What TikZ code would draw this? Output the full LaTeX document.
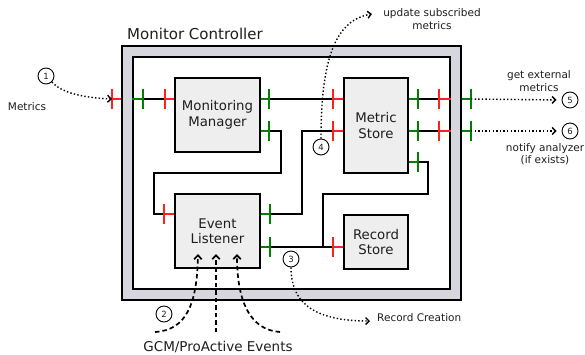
\documentclass[tikz,border=0pt]{standalone}
\usepackage{fontspec}
\setmainfont{DejaVu Sans}
\usetikzlibrary{arrows.meta}
\definecolor{framegray}{HTML}{D6D6DE}
\definecolor{boxgray}{HTML}{EEEEEE}
\definecolor{reqred}{HTML}{FF2020}
\definecolor{provgreen}{HTML}{008000}
\definecolor{txt}{HTML}{1E1E1E}

% stub from a box edge to a port tick, plus the tick itself
\newcommand{\portstub}[3]{%
  \draw[portline,#1] (#2) -- (#3);
  \draw[portline,#1] ([yshift=-10pt]#3) -- ([yshift=10pt]#3);}

\begin{document}
\begin{tikzpicture}[x=1pt,y=-1pt,
  every node/.style={text=txt},
  outerbox/.style={draw=black,line width=1.8pt,fill=framegray,inner sep=0pt},
  innerbox/.style={draw=black,line width=1.8pt,fill=white,inner sep=0pt},
  comp/.style={draw=black,line width=1.8pt,fill=boxgray,inner sep=0pt,align=center,
    font=\fontsize{13.3}{15.5}\selectfont},
  portline/.style={line width=1.6pt},
  wire/.style={draw=black,line width=1.6pt},
  num/.style={circle,draw=black,line width=0.9pt,minimum size=16pt,inner sep=0pt,
    font=\fontsize{8.5}{9}\selectfont},
  note/.style={align=center,font=\fontsize{10.5}{12.5}\selectfont},
  dotarrow/.style={line width=1.4pt,dash pattern=on 1.4pt off 2.2pt,
    -{Straight Barb[length=3.5pt,width=7pt]}},
  dasharrow/.style={line width=1.7pt,dash pattern=on 4.5pt off 3pt,
    -{Straight Barb[length=4pt,width=7.5pt]}},
]
\useasboundingbox (0,0) rectangle (585,354);

% controller frame
\node[outerbox,minimum width=339pt,minimum height=254pt] (mc) at (291.5,173) {};
\node[innerbox,minimum width=317pt,minimum height=232pt] (ib) at (291.5,173) {};
\node[anchor=base west,inner sep=0pt,font=\fontsize{15}{18}\selectfont] (title) at (127,39) {Monitor Controller};

% components
\node[comp,minimum width=85pt,minimum height=74pt] (mm) at (217.5,115) {Monitoring\\Manager};
\node[comp,minimum width=64pt,minimum height=95pt] (ms) at (376,125.5) {Metric\\Store};
\node[comp,minimum width=85pt,minimum height=74pt] (el) at (217.5,231) {Event\\Listener};
\node[comp,minimum width=64pt,minimum height=54pt] (rs) at (376,242) {Record\\Store};

% port ticks
\coordinate (pIn0) at (112,99);
\coordinate (pOut5) at (471,99);
\coordinate (pOut6) at (471,131);
\coordinate (pIn1) at (143,99);
\coordinate (pOutA) at (439,99);
\coordinate (pOutB) at (439,131);
\coordinate (pMMin) at (165,99);
\coordinate (pMMo1) at (269,99);
\coordinate (pMMo2) at (269,131);
\coordinate (pELin) at (164,214);
\coordinate (pELo1) at (270,214);
\coordinate (pELo2) at (270,247);
\coordinate (pMSi1) at (333,99);
\coordinate (pMSi2) at (333,131);
\coordinate (pMSo1) at (418,99);
\coordinate (pMSo2) at (418,131);
\coordinate (pMSo3) at (418,162);
\coordinate (pRSin) at (333,247);
\coordinate (jn) at (323,247);

% wires
\draw[wire] (pIn1) -- (pMMin);
\draw[wire] (pMMo1) -- (pMSi1);
\draw[wire] (pMMo2) -| (281,173) -| (154,214) -- (pELin);
\draw[wire] (pELo1) -- ++(32,0) |- (pMSi2);
\draw[wire] (pELo2) -- (pRSin);
\draw[wire] (pMSo3) -| (428,194) -| (jn);
\draw[wire] (pMSo1) -- (pOutA);
\draw[wire] (pMSo2) -- (pOutB);

% ports
\portstub{reqred}{mc.west |- pIn0}{pIn0}
\portstub{provgreen}{mc.east |- pOut5}{pOut5}
\portstub{provgreen}{mc.east |- pOut6}{pOut6}
\portstub{provgreen}{ib.west |- pIn1}{pIn1}
\portstub{reqred}{ib.east |- pOutA}{pOutA}
\portstub{reqred}{ib.east |- pOutB}{pOutB}
\portstub{reqred}{mm.west |- pMMin}{pMMin}
\portstub{provgreen}{mm.east |- pMMo1}{pMMo1}
\portstub{provgreen}{mm.east |- pMMo2}{pMMo2}
\portstub{reqred}{el.west |- pELin}{pELin}
\portstub{provgreen}{el.east |- pELo1}{pELo1}
\portstub{provgreen}{el.east |- pELo2}{pELo2}
\portstub{reqred}{ms.west |- pMSi1}{pMSi1}
\portstub{reqred}{ms.west |- pMSi2}{pMSi2}
\portstub{provgreen}{ms.east |- pMSo1}{pMSo1}
\portstub{provgreen}{ms.east |- pMSo2}{pMSo2}
\portstub{provgreen}{ms.east |- pMSo3}{pMSo3}
\portstub{reqred}{rs.west |- pRSin}{pRSin}

% numbered steps
\node[num] (c1) at (46,76) {1};
\node[num] (c2) at (164,314) {2};
\node[num] (c3) at (291,259) {3};
\node[num] (c4) at (321,147) {4};
\node[num] (c5) at (570,100) {5};
\node[num] (c6) at (570,131) {6};

% labels
\node[note] (lmetrics) at (27,107) {Metrics};
\node[note] (lupdate) at (432,19) {update subscribed\\metrics};
\node[note] (lget) at (539,81) {get external\\metrics};
\node[note] (lnotify) at (545,154) {notify analyzer\\(if exists)};
\node[note,anchor=west,inner sep=0pt] (lrecord) at (377,318) {Record Creation};
\node[font=\fontsize{13.5}{16}\selectfont] (lgcm) at (218,347) {GCM/ProActive Events};

% flows
\coordinate (t4) at (372,14);
\coordinate (t3) at (370,321);
\draw[dotarrow] (c1.south east) .. controls (62,94) and (88,98) .. (pIn0);
\draw[dotarrow,shorten >=5pt] (pOut5) -- (c5.west);
\draw[dotarrow,shorten >=5pt] (pOut6) -- (c6.west);
\draw[dotarrow] (c4.north) .. controls (321,60) and (335,20) .. (t4);
\draw[dotarrow] (c3.south) .. controls (291,300) and (310,321) .. (t3);

% incoming events
\coordinate (s1) at (155,332);
\coordinate (s2) at (216,332);
\coordinate (s3) at (280,332);
\coordinate (e1) at (198,254);
\coordinate (e2) at (216,254);
\coordinate (e3) at (237,254);
\draw[dasharrow] (s1) .. controls (186,330) and (197,305) .. (e1);
\draw[dasharrow] (s2) -- (e2);
\draw[dasharrow] (s3) .. controls (252,330) and (237,305) .. (e3);
\end{tikzpicture}
\end{document}
